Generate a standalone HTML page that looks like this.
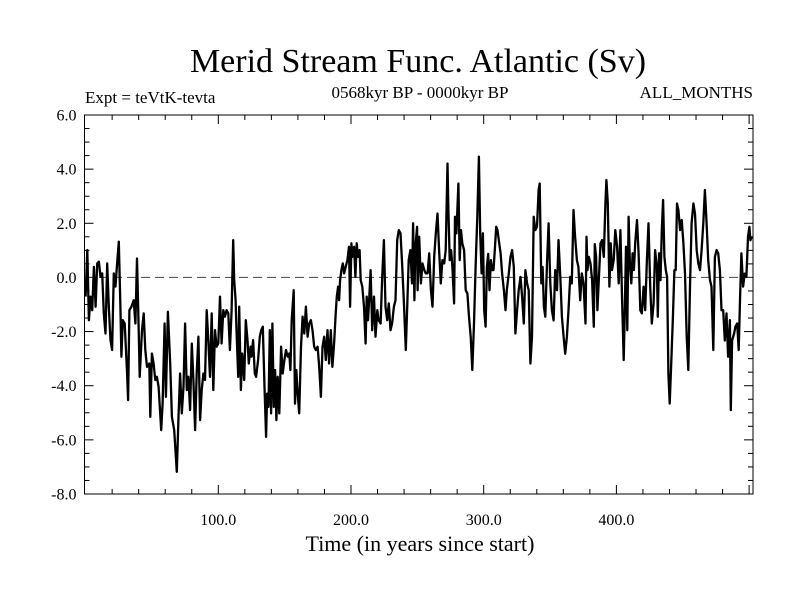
<!DOCTYPE html>
<html><head><meta charset="utf-8"><style>
html,body{margin:0;padding:0;background:#fff;}
svg{display:block;font-family:"Liberation Serif",serif;}
</style></head><body>
<svg id="chart" width="800" height="600">
<rect width="800" height="600" fill="#fff"/>
<text x="418" y="72" font-size="34" text-anchor="middle">Merid Stream Func. Atlantic (Sv)</text>
<text x="85" y="103" font-size="17">Expt = teVtK-tevta</text>
<text x="420" y="98" font-size="17" text-anchor="middle">0568kyr BP - 0000kyr BP</text>
<text x="753" y="98" font-size="17" text-anchor="end">ALL_MONTHS</text>
<text x="420" y="551" font-size="22" text-anchor="middle">Time (in years since start)</text>
<g id="ticks"></g>
<line x1="85" x2="753" y1="277.4" y2="277.4" stroke="#444" stroke-width="1" stroke-dasharray="9,5"/>
<path id="series" fill="none" stroke="#000" stroke-width="2.3" stroke-linejoin="round"/>
<rect x="84.5" y="115" width="668.5" height="379" fill="none" stroke="#000" stroke-width="1"/>
</svg>
<script>
const years=[0,1.25,2.5,3.75,5,6.25,7.5,8.75,10,11.25,12.5,13.75,15,16.25,17.5,18.75,20,21.25,22.5,23.75,25,26.25,27,28,29.5,31.25,32,33,34.5,36.25,37.5,38.75,40,40.75,42.5,43.75,45,46.25,48,48.75,50,51.25,52.5,53.75,55,57,58,59.5,60.5,62,63.75,65,66.75,68.75,70,71.25,72.5,73.75,75,76.25,77.5,78.75,80,81.25,82.5,83.75,85,86.25,87.5,88.75,90,91.25,92.5,93.75,95,96.25,97.5,98.75,100,101.25,102.5,103.75,105,106.25,107.5,108.75,110,111.25,112,113,113.75,115,115.75,117,118,119.5,120.75,122,123,124.25,125,126.25,127.5,
128.5,130,131.25,132.3,133.5,134.8,136,136.8,137.8,138.8,139.8,140.8,141.8,142.8,143.8,144.8,146,147.3,148.5,149.8,151,152.3,153.5,154.3,155.3,156,156.8,157.8,158.8,159.8,161,162.3,163.5,164.8,166,167.3,168.5,169.8,171,172.3,173.5,174.8,176,177.3,178.5,179.8,181,182.3,183.5,184.8,186,187.3,188.5,189.3,190.3,191,191.8,192.8,193.8,194.8,196,197.3,198.5,199.3,200.3,201,202.3,203.3,204.3,205.3,206.5,207.3,208.5,209.8,211,211.8,212.8,213.8,214.8,216,217.3,218.5,219.8,220.8,222.3,223.5,224.8,226,227.3,228.5,229.8,231,232.3,233.5,234.8,236,237.3,238.5,239.8,241.3,242.3,243.5,244.8,246,246.8,247.8,248.5,249.8,
250.2,251.4,252.7,253.9,255.2,256.4,257.7,258.9,260.2,261.4,262.7,263.9,265.2,266.4,267.7,268.9,270.2,271.4,272.7,273.4,274.4,275.4,276.4,277.7,278.4,279.4,280.9,281.9,282.9,283.9,285.2,286.4,287.7,288.9,290.2,291.4,292.7,293.9,295.2,296.4,297.4,298.4,299.4,300.4,301.4,302.4,303.4,304.4,305.4,306.4,307.4,308.4,309.4,310.4,311.4,312.7,313.9,315.2,316.4,317.4,318.9,320.2,321.4,322.7,323.9,325.2,326.4,327.7,328.9,330.2,331.4,332.7,333.9,335.2,336.4,337.7,338.9,340.2,341.4,342.2,343.4,344.4,345.4,346.4,347.7,348.9,350.2,351.4,352.7,353.9,355.2,356.4,357.7,358.9,360.2,361.4,362.7,363.9,365.2,366.4,367.7,368.9,370.2,371.4,372.7,373.9,375.2,
376.7,377.5,378.2,379.2,380.5,381.7,383,383.7,384.7,385.7,386.7,388,389.2,390.5,391.7,392.5,393.5,394.7,395.7,396.7,398,399.2,400.5,401.7,403,404.2,405.5,406.2,407.2,408.2,409.2,410.2,411.2,412.2,413.2,414.2,415.5,416.7,418,419.2,420.5,421.7,423,424.2,425.5,426.7,428,429.2,430.5,431.2,432.2,433.2,434.2,435.2,436.2,437.2,438.2,439.2,440.2,441.2,442.5,443.7,444.7,445.7,446.7,448,449.2,450.5,451.7,453,454.2,455.5,456.7,458,459.2,460.5,461.7,463,464.2,465.5,466.7,468,469.2,470.5,471.7,473,474.2,475.5,476.7,478,479.2,480.5,481.7,483,484.2,485.5,486.2,487.2,488.7,489.7,491,492.2,493.2,494.2,495.5,496.7,498,499.2,500.2,501,502];
const values=[-0.71,1.01,-1.58,-0.71,-1.21,0.39,-1.08,0.52,0.58,0.02,0.15,-1.33,-2.07,0.52,-1.08,-2.32,-2.68,0.15,-0.34,0.52,1.32,-1.08,-2.93,-1.58,-1.70,-3.55,-4.53,-1.21,-1.08,-0.84,-1.70,0.70,-1.95,-3.67,-1.95,-1.33,-2.68,-3.30,-3.18,-5.15,-2.81,-3.18,-3.79,-3.67,-4.04,-5.64,-4.66,-1.70,-4.41,-1.27,-3.18,-5.15,-5.64,-7.18,-5.15,-3.55,-5.02,-4.04,-1.70,-4.16,-3.67,-4.90,-2.44,-3.79,-5.64,-3.55,-2.19,-5.27,-4.16,-3.55,-3.79,-1.21,-2.32,-3.67,-1.33,-4.16,-1.95,-2.56,-2.44,-0.71,-2.44,-1.21,-1.45,-1.21,-1.33,-2.68,-1.21,1.38,-0.10,-0.84,-1.95,-3.67,-1.08,-4.16,-2.81,-3.79,-1.58,-2.32,-3.18,-2.56,-2.93,-2.32,-3.55,
-3.67,-3.05,-2.19,-1.95,-1.82,-4.04,-5.89,-4.29,-4.78,-1.95,-5.02,-1.70,-4.78,-3.42,-5.27,-3.67,-5.02,-2.56,-3.55,-3.05,-2.68,-2.93,-2.81,-3.42,-1.58,-1.08,-0.47,-4.66,-3.42,-4.29,-5.02,-2.56,-1.45,-2.07,-1.08,-2.19,-1.70,-1.58,-1.95,-2.56,-2.68,-2.56,-3.30,-4.41,-2.56,-2.19,-3.05,-1.95,-3.18,-1.95,-3.30,-2.44,-1.33,-0.71,-0.34,-0.84,-0.10,0.27,0.52,0.15,0.39,0.64,1.13,-1.08,1.26,0.76,1.13,0.02,1.26,0.76,1.01,-0.10,-0.34,-1.08,-2.44,-0.71,-1.58,-0.71,0.27,-1.95,-0.71,-2.19,-1.21,-1.58,-1.70,0.02,1.38,-1.08,-1.58,-0.96,-1.95,-1.70,-1.08,-0.84,1.38,1.75,1.63,0.52,-0.84,-2.68,-1.21,0.64,1.01,-0.22,2.00,-0.84,1.13,1.87,
-0.47,1.50,-0.22,0.52,0.27,0.15,0.15,0.89,-0.47,-1.08,0.76,1.63,2.36,1.01,-0.22,0.64,0.52,1.01,4.21,2.49,0.64,1.01,0.39,-0.96,2.24,1.63,3.47,0.64,1.75,1.26,1.01,-0.47,-0.59,-1.45,-2.19,-3.42,-1.70,0.39,2.24,4.46,1.63,0.15,1.63,-1.21,-1.82,0.39,0.87,-0.47,0.64,0.27,0.27,1.01,1.87,1.75,1.38,0.89,0.15,-0.47,-1.21,-0.47,0.15,0.76,1.01,0.39,-2.07,-1.21,-0.47,0.02,-0.71,-1.70,0.27,-0.22,-0.47,-3.18,-2.19,2.24,1.75,1.87,3.23,3.47,-0.22,0.39,-1.08,-1.45,0.52,2.00,-0.22,-1.21,-1.59,0.27,-0.47,1.38,0.02,-1.45,-2.19,-2.82,-2.19,-1.21,0.02,-0.22,2.49,1.50,0.64,0.39,-0.84,0.15,-0.22,
-1.70,1.50,0.27,0.76,0.52,-0.10,-1.82,1.23,0.76,-1.21,-0.10,1.26,1.38,0.76,2.73,3.60,2.73,-0.34,1.26,0.27,0.64,1.75,1.13,-0.22,1.75,-0.71,-3.05,-1.58,1.13,-1.95,2.24,0.52,-0.22,0.89,0.27,1.26,2.12,0.89,-1.21,-1.33,-0.34,-1.21,0.64,2.00,-0.34,-1.70,-0.96,1.01,0.39,-1.45,0.89,-0.10,1.75,2.86,0.76,0.27,0.02,-3.56,-4.66,-3.30,-1.58,0.27,0.27,2.73,2.49,1.75,2.12,1.26,0.15,-2.19,-3.42,-0.34,2.00,2.73,2.36,1.01,0.52,0.27,1.01,2.00,3.23,2.00,0.64,-0.10,-0.34,-2.68,0.76,1.01,0.89,0.27,-1.21,-1.21,-2.33,-1.33,-2.93,-1.58,-4.90,-2.33,-2.07,-1.82,-1.70,-2.68,-0.71,0.89,-0.34,0.14,0.02,1.50,1.87,1.37,1.50];
const yTicks=[-8,-6,-4,-2,0,2,4,6];
const yTickLabels=["-8.0","-6.0","-4.0","-2.0","0.0","2.0","4.0","6.0"];
const xTicks=[100,200,300,400];
const xTickLabels=["100.0","200.0","300.0","400.0"];

const NS="http://www.w3.org/2000/svg";
const L=84.5,R=753,T=115,B=494;
function sx(v){return 85.6+v*1.327;}
function sy(v){return B-(v-(-8))*(B-T)/14;}
const g=document.getElementById('ticks');
function line(x1,y1,x2,y2){const l=document.createElementNS(NS,'line');l.setAttribute('x1',x1);l.setAttribute('y1',y1);l.setAttribute('x2',x2);l.setAttribute('y2',y2);l.setAttribute('stroke','#000');l.setAttribute('stroke-width','1');


g.appendChild(l);}
for(let v=-8;v<=6.001;v+=0.5){const y=sy(v);const len=(Math.abs(v%2)<0.01)?9:5;line(L,y,L+len,y);line(R,y,R-len,y);}
for(let v=20;v<=500;v+=20){const x=sx(v);const len=(v%100===0)?9:5;line(x,B,x,B-len);line(x,T,x,T+len);}
yTicks.forEach((v,i)=>{const t=document.createElementNS(NS,'text');t.setAttribute('x',L-8);t.setAttribute('y',sy(v)+5.5);t.setAttribute('text-anchor','end');t.setAttribute('font-size','16');t.textContent=yTickLabels[i];


g.appendChild(t);});
xTicks.forEach((v,i)=>{const t=document.createElementNS(NS,'text');t.setAttribute('x',sx(v));t.setAttribute('y',B+31);t.setAttribute('text-anchor','middle');t.setAttribute('font-size','16');t.textContent=xTickLabels[i];


g.appendChild(t);});
let d='';
for(let i=0;i<years.length;i++){d+=(i?'L':'M')+Math.min(R,sx(years[i])).toFixed(1)+' '+sy(values[i]).toFixed(1);}
document.getElementById('series').setAttribute('d',d);
</script>
</body></html>
